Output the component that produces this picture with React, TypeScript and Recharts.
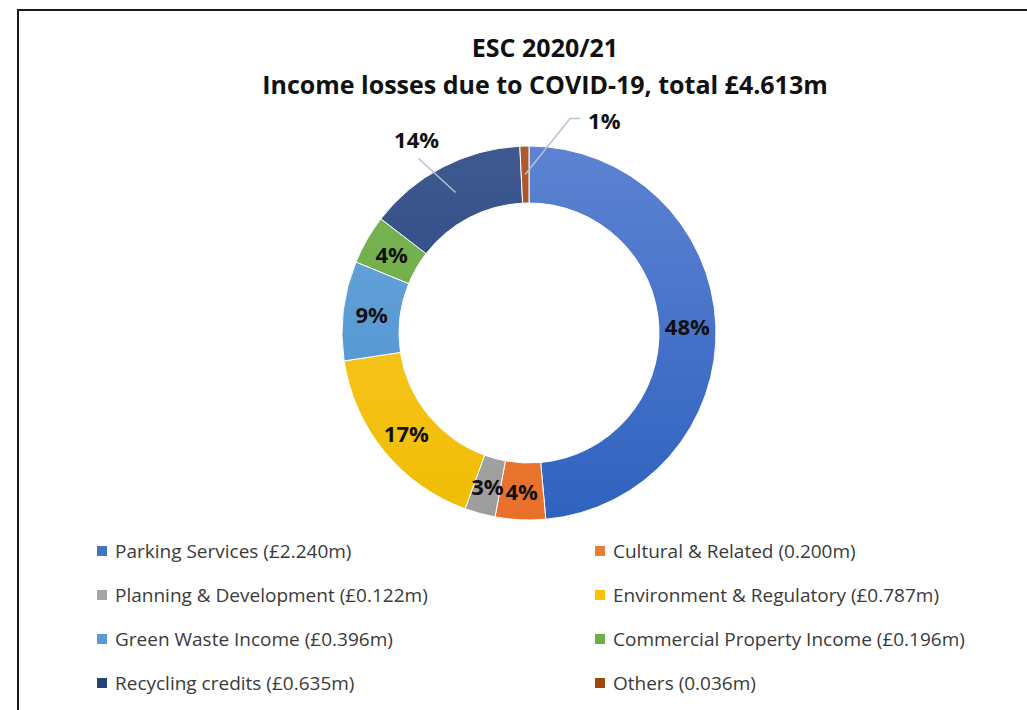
import React from "react";
import { PieChart, Pie, Cell, Legend } from "recharts";

const categories = [
  "Parking Services (£2.240m)",
  "Cultural & Related (0.200m)",
  "Planning & Development (£0.122m)",
  "Environment & Regulatory (£0.787m)",
  "Green Waste Income (£0.396m)",
  "Commercial Property Income (£0.196m)",
  "Recycling credits (£0.635m)",
  "Others (0.036m)",
];
const values = [2.24, 0.2, 0.122, 0.787, 0.396, 0.196, 0.635, 0.036];
const pctLabels = ["48%", "4%", "3%", "17%", "9%", "4%", "14%", "1%"];
const titleLines = ["ESC 2020/21", "Income losses due to COVID-19, total £4.613m"];

const colorsTop = ["#5d83d2", "#f08a44", "#b0b0b0", "#ffca3e", "#6aa6db", "#7cb656", "#3f5a90", "#b05a30"];
const colorsBottom = ["#2f62bf", "#e8702a", "#9d9d9d", "#efbd00", "#4b90cf", "#63a23c", "#1f3b72", "#983f0c"];
const legendColors = ["#4472c4", "#ed7d31", "#a5a5a5", "#ffc000", "#5b9bd5", "#70ad47", "#264478", "#9e480e"];

const data = categories.map((name, i) => ({ name, value: values[i], label: pctLabels[i] }));

const FONT = "'Open Sans', Lato, sans-serif";
const RAD = Math.PI / 180;

const renderLabel = (props: any) => {
  const { cx, cy, midAngle, innerRadius, outerRadius, index } = props;
  const r = (innerRadius + outerRadius) / 2;
  const x0 = cx + r * Math.cos(-midAngle * RAD);
  const y0 = cy + r * Math.sin(-midAngle * RAD);
  const text = pctLabels[index];
  const common = { fontFamily: FONT, fontWeight: 700, fontSize: 22, fill: "#111" } as any;
  if (index === 6) {
    return (
      <g key={"l" + index}>
        <line x1={x0} y1={y0} x2={x0 - 37} y2={y0 - 34} stroke="#b4c2d4" strokeWidth={1.5} />
        <text x={x0 - 39} y={y0 - 54} textAnchor="middle" dominantBaseline="central" {...common}>{text}</text>
      </g>
    );
  }
  if (index === 7) {
    return (
      <g key={"l" + index}>
        <polyline points={`${x0},${y0} ${x0 + 45},${y0 - 56} ${x0 + 55},${y0 - 56}`} fill="none" stroke="#b4c2d4" strokeWidth={1.5} />
        <text x={x0 + 63} y={y0 - 55} textAnchor="start" dominantBaseline="central" {...common}>{text}</text>
      </g>
    );
  }
  return (
    <text key={"l" + index} x={x0} y={y0} textAnchor="middle" dominantBaseline="central" {...common}>{text}</text>
  );
};

const renderLegend = () => (
  <div style={{ display: "grid", gridTemplateColumns: "498px 420px", gridAutoRows: "44px", fontFamily: FONT, fontSize: 19, color: "#3a3a3a" }}>
    {categories.map((c, i) => (
      <div key={c} style={{ display: "flex", alignItems: "center", whiteSpace: "nowrap" }}>
        <span style={{ display: "inline-block", width: 10, height: 10, background: legendColors[i], marginRight: 8 }} />
        <span>{c}</span>
      </div>
    ))}
  </div>
);

export default function App() {
  return (
    <div style={{ position: "absolute", left: 0, top: 0, width: 1027, height: 710, overflow: "hidden", background: "#fff" }}>
      <div style={{ position: "absolute", left: 17, top: 9, width: 1100, height: 800, border: "2px solid #1a1a1a", boxSizing: "border-box" }} />
      <div style={{ position: "absolute", left: 0, top: 29, width: 1090, textAlign: "center", fontFamily: FONT, fontWeight: 700, fontSize: 25, color: "#111", lineHeight: "37px" }}>
        <div>{titleLines[0]}</div>
        <div>{titleLines[1]}</div>
      </div>
      <div style={{ position: "absolute", left: 0, top: 0 }}>
        <PieChart width={1027} height={710}>
          <defs>
            {colorsTop.map((c, i) => (
              <linearGradient key={i} id={"g" + i} gradientUnits="userSpaceOnUse" x1="0" y1="146" x2="0" y2="520">
                <stop offset="0%" stopColor={c} />
                <stop offset="100%" stopColor={colorsBottom[i]} />
              </linearGradient>
            ))}
          </defs>
          <Pie
            data={data}
            dataKey="value"
            nameKey="name"
            cx={524}
            cy={328}
            innerRadius={130}
            outerRadius={187}
            startAngle={90}
            endAngle={-270}
            stroke="#ffffff"
            strokeWidth={1}
            label={renderLabel}
            labelLine={false}
            isAnimationActive={false}
          >
            {data.map((d, i) => (
              <Cell key={d.name} fill={`url(#g${i})`} />
            ))}
          </Pie>
          <Legend content={renderLegend} wrapperStyle={{ position: "absolute", left: 97, top: 529, width: 930, height: 180 }} />
        </PieChart>
      </div>
    </div>
  );
}
